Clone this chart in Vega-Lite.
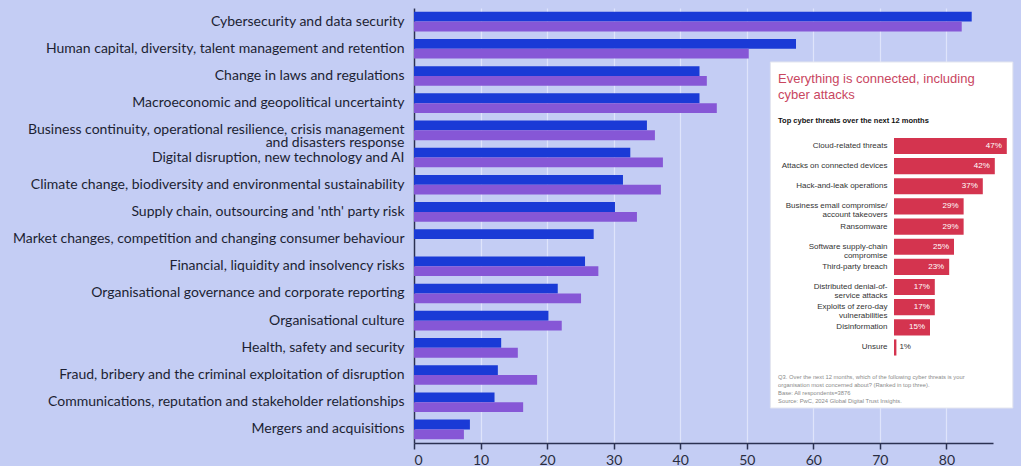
{
  "$schema": "https://vega.github.io/schema/vega-lite/v6.json",
  "width": 579,
  "height": 435,
  "autosize": "none",
  "padding": {"left": 414, "top": 8, "right": 28, "bottom": 23},
  "background": "#c4cdf4",
  "config": {"view": {"stroke": null}},
  "datasets": {
    "risks": [
      {"category": "Cybersecurity and data security", "series": "Series 1", "value": 83.8},
      {"category": "Cybersecurity and data security", "series": "Series 2", "value": 82.3},
      {"category": "Human capital, diversity, talent management and retention", "series": "Series 1", "value": 57.4},
      {"category": "Human capital, diversity, talent management and retention", "series": "Series 2", "value": 50.3},
      {"category": "Change in laws and regulations", "series": "Series 1", "value": 42.9},
      {"category": "Change in laws and regulations", "series": "Series 2", "value": 44.0},
      {"category": "Macroeconomic and geopolitical uncertainty", "series": "Series 1", "value": 42.9},
      {"category": "Macroeconomic and geopolitical uncertainty", "series": "Series 2", "value": 45.5},
      {"category": "Business continuity, operational resilience, crisis management\nand disasters response", "series": "Series 1", "value": 35.0},
      {"category": "Business continuity, operational resilience, crisis management\nand disasters response", "series": "Series 2", "value": 36.2},
      {"category": "Digital disruption, new technology and AI", "series": "Series 1", "value": 32.5},
      {"category": "Digital disruption, new technology and AI", "series": "Series 2", "value": 37.4},
      {"category": "Climate change, biodiversity and environmental sustainability", "series": "Series 1", "value": 31.4},
      {"category": "Climate change, biodiversity and environmental sustainability", "series": "Series 2", "value": 37.1},
      {"category": "Supply chain, outsourcing and 'nth' party risk", "series": "Series 1", "value": 30.2},
      {"category": "Supply chain, outsourcing and 'nth' party risk", "series": "Series 2", "value": 33.5},
      {"category": "Market changes, competition and changing consumer behaviour", "series": "Series 1", "value": 27.0},
      {"category": "Financial, liquidity and insolvency risks", "series": "Series 1", "value": 25.7},
      {"category": "Financial, liquidity and insolvency risks", "series": "Series 2", "value": 27.7},
      {"category": "Organisational governance and corporate reporting", "series": "Series 1", "value": 21.6},
      {"category": "Organisational governance and corporate reporting", "series": "Series 2", "value": 25.1},
      {"category": "Organisational culture", "series": "Series 1", "value": 20.2},
      {"category": "Organisational culture", "series": "Series 2", "value": 22.2},
      {"category": "Health, safety and security", "series": "Series 1", "value": 13.1},
      {"category": "Health, safety and security", "series": "Series 2", "value": 15.6},
      {"category": "Fraud, bribery and the criminal exploitation of disruption", "series": "Series 1", "value": 12.6},
      {"category": "Fraud, bribery and the criminal exploitation of disruption", "series": "Series 2", "value": 18.5},
      {"category": "Communications, reputation and stakeholder relationships", "series": "Series 1", "value": 12.1},
      {"category": "Communications, reputation and stakeholder relationships", "series": "Series 2", "value": 16.4},
      {"category": "Mergers and acquisitions", "series": "Series 1", "value": 8.4},
      {"category": "Mergers and acquisitions", "series": "Series 2", "value": 7.5}
    ],
    "threats": [
      {"threat": "Cloud-related threats", "pct": 0.47},
      {"threat": "Attacks on connected devices", "pct": 0.42},
      {"threat": "Hack-and-leak operations", "pct": 0.37},
      {"threat": "Business email compromise/\naccount takeovers", "pct": 0.29},
      {"threat": "Ransomware", "pct": 0.29},
      {"threat": "Software supply-chain\ncompromise", "pct": 0.25},
      {"threat": "Third-party breach", "pct": 0.23},
      {"threat": "Distributed denial-of-\nservice attacks", "pct": 0.17},
      {"threat": "Exploits of zero-day\nvulnerabilities", "pct": 0.17},
      {"threat": "Disinformation", "pct": 0.15},
      {"threat": "Unsure", "pct": 0.01}
    ]
  },
  "layer": [
    {
      "data": {"name": "risks"},
      "encoding": {
        "y": {
          "field": "category", "type": "nominal", "sort": null, "title": null,
          "scale": {"paddingInner": 0.28, "paddingOuter": 0.14},
          "axis": {
            "ticks": false, "labelPadding": 10, "labelFont": "Lato", "labelFontSize": 14,
            "labelColor": "#1c1f33", "labelLimit": 420, "labelLineHeight": 13,
            "labelExpr": "split(datum.label, '\\n')",
            "domainColor": "#2b3152", "domainWidth": 1.5, "grid": false
          }
        },
        "x": {
          "field": "value", "type": "quantitative", "title": null,
          "scale": {"domain": [0, 87], "nice": false},
          "axis": {
            "values": [0, 10, 20, 30, 40, 50, 60, 70, 80],
            "labelFont": "Lato", "labelFontSize": 14, "labelColor": "#2a2d40",
            "labelPadding": 4, "tickSize": 6, "tickColor": "#2b3152", "tickWidth": 1.5,
            "domainColor": "#2b3152", "domainWidth": 1.5,
            "grid": true, "gridColor": "#dfe4fb", "gridWidth": 1.2
          }
        }
      },
      "layer": [
        {
          "transform": [{"filter": "datum.series == 'Series 1'"}],
          "mark": {"type": "bar", "color": "#1a3ad6", "height": {"band": 0.5}, "yOffset": -4.9}
        },
        {
          "transform": [{"filter": "datum.series == 'Series 2'"}],
          "mark": {"type": "bar", "color": "#8657d6", "height": {"band": 0.5}, "yOffset": 4.9}
        }
      ]
    },
    {
      "data": {"values": [{}]},
      "layer": [
        {
          "mark": {"type": "rect", "fill": "#ffffff", "stroke": "#e4e6ef", "strokeWidth": 1},
          "encoding": {
            "x": {"datum": -51.5, "type": "quantitative", "scale": {"domain": [-200, 41.25], "nice": false}, "axis": null},
            "x2": {"datum": 49.5},
            "y": {"datum": 54, "type": "quantitative", "scale": {"domain": [0, 435], "reverse": true, "nice": false}, "axis": null},
            "y2": {"datum": 400}
          }
        },
        {
          "mark": {"type": "text", "text": "Everything is connected, including", "font": "Liberation Sans", "fontSize": 13, "align": "left", "baseline": "alphabetic", "color": "#c9465f"},
          "encoding": {"x": {"datum": -48.3, "type": "quantitative"}, "y": {"datum": 75, "type": "quantitative"}}
        },
        {
          "mark": {"type": "text", "text": "cyber attacks", "font": "Liberation Sans", "fontSize": 13, "align": "left", "baseline": "alphabetic", "color": "#c9465f"},
          "encoding": {"x": {"datum": -48.3, "type": "quantitative"}, "y": {"datum": 91, "type": "quantitative"}}
        },
        {
          "mark": {"type": "text", "text": "Top cyber threats over the next 12 months", "font": "Liberation Sans", "fontSize": 7.5, "fontWeight": "bold", "align": "left", "baseline": "alphabetic", "color": "#111111"},
          "encoding": {"x": {"datum": -48.3, "type": "quantitative"}, "y": {"datum": 115, "type": "quantitative"}}
        },
        {
          "mark": {"type": "text", "text": "Q3. Over the next 12 months, which of the following cyber threats is your", "font": "Liberation Sans", "fontSize": 5.8, "align": "left", "baseline": "alphabetic", "color": "#8a8a8a"},
          "encoding": {"x": {"datum": -48.3, "type": "quantitative"}, "y": {"datum": 371, "type": "quantitative"}}
        },
        {
          "mark": {"type": "text", "text": "organisation most concerned about? (Ranked in top three).", "font": "Liberation Sans", "fontSize": 5.8, "align": "left", "baseline": "alphabetic", "color": "#8a8a8a"},
          "encoding": {"x": {"datum": -48.3, "type": "quantitative"}, "y": {"datum": 379, "type": "quantitative"}}
        },
        {
          "mark": {"type": "text", "text": "Base: All respondents=3876", "font": "Liberation Sans", "fontSize": 5.8, "align": "left", "baseline": "alphabetic", "color": "#8a8a8a"},
          "encoding": {"x": {"datum": -48.3, "type": "quantitative"}, "y": {"datum": 387, "type": "quantitative"}}
        },
        {
          "mark": {"type": "text", "text": "Source: PwC, 2024 Global Digital Trust Insights.", "font": "Liberation Sans", "fontSize": 5.8, "align": "left", "baseline": "alphabetic", "color": "#8a8a8a"},
          "encoding": {"x": {"datum": -48.3, "type": "quantitative"}, "y": {"datum": 395, "type": "quantitative"}}
        }
      ]
    },
    {
      "data": {"name": "threats"},
      "encoding": {
        "y": {
          "field": "threat", "type": "nominal", "sort": null, "title": null,
          "scale": {
            "domain": [" ", "  ", "   ", "    ", "     ", "      ",
              "Cloud-related threats", "Attacks on connected devices", "Hack-and-leak operations",
              "Business email compromise/\naccount takeovers", "Ransomware", "Software supply-chain\ncompromise",
              "Third-party breach", "Distributed denial-of-\nservice attacks", "Exploits of zero-day\nvulnerabilities",
              "Disinformation", "Unsure",
              "       ", "        ", "         ", "          "],
            "paddingInner": 0.2, "paddingOuter": 0.395, "align": 0.568
          },
          "axis": {
            "orient": "left", "offset": -480, "zindex": 1, "domain": false, "ticks": false, "grid": false,
            "labelPadding": 7, "labelFont": "Liberation Sans", "labelFontSize": 8,
            "labelColor": "#333333", "labelLineHeight": 9, "labelLimit": 200,
            "labelExpr": "split(datum.label, '\\n')"
          }
        },
        "x": {"field": "pct", "type": "quantitative", "scale": {"domain": [-2, 0.4125], "nice": false}, "axis": null}
      },
      "layer": [
        {"mark": {"type": "bar", "color": "#d4344f"}},
        {
          "transform": [{"filter": "datum.pct >= 0.05"}],
          "mark": {"type": "text", "align": "right", "baseline": "middle", "dx": -5, "font": "Liberation Sans", "fontSize": 8, "color": "#ffffff"},
          "encoding": {"text": {"field": "pct", "type": "quantitative", "format": ".0%"}}
        },
        {
          "transform": [{"filter": "datum.pct < 0.05"}],
          "mark": {"type": "text", "align": "left", "baseline": "middle", "dx": 3, "font": "Liberation Sans", "fontSize": 8, "color": "#333333"},
          "encoding": {"text": {"field": "pct", "type": "quantitative", "format": ".0%"}}
        }
      ]
    }
  ],
  "resolve": {"scale": {"x": "independent", "y": "independent"}}
}
